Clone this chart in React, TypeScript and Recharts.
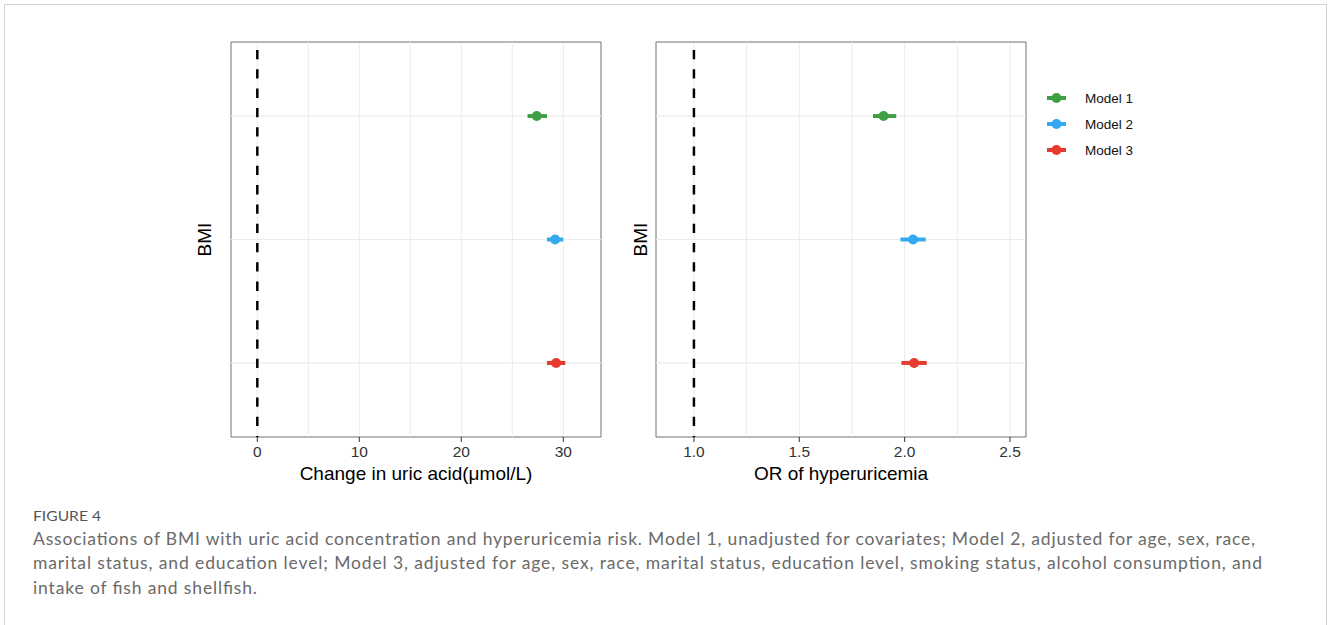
import React from 'react';
import {
  ScatterChart,
  Scatter,
  XAxis,
  YAxis,
  CartesianGrid,
  ErrorBar,
  ReferenceLine,
  ReferenceArea,
  Legend,
  Label,
} from 'recharts';

// ---------- data ----------
const models = ['Model 1', 'Model 2', 'Model 3'];
const modelColors = ['#3f9f45', '#35a9ef', '#e63b2e'];
const rowPositions = [3, 2, 1];

const uricEstimate = [27.4, 29.2, 29.3];
const uricLower = [26.5, 28.4, 28.4];
const uricUpper = [28.4, 30.0, 30.2];

const orEstimate = [1.9, 2.04, 2.045];
const orLower = [1.85, 1.98, 1.985];
const orUpper = [1.96, 2.1, 2.105];

const uricTicks = [0, 10, 20, 30];
const uricMinorTicks = [5, 15, 25];
const uricDomain: [number, number] = [-2.58, 33.7];
const uricRef = 0;

const orTicks = [1.0, 1.5, 2.0, 2.5];
const orMinorTicks = [1.25, 1.75, 2.25];
const orDomain: [number, number] = [0.82, 2.576];
const orRef = 1;

const rowDomain: [number, number] = [0.4, 3.6];
const rowTicks = [1, 2, 3];

const captionTitle = 'FIGURE 4';
const captionLines = [
  'Associations of BMI with uric acid concentration and hyperuricemia risk. Model 1, unadjusted for covariates; Model 2, adjusted for age, sex, race,',
  'marital status, and education level; Model 3, adjusted for age, sex, race, marital status, education level, smoking status, alcohol consumption, and',
  'intake of fish and shellfish.',
];
const captionLineWidths = [1222, 1229, 224];

// ---------- styles ----------
const FONT = '"Liberation Sans", Arial, Helvetica, sans-serif';
const GRID = '#ebebeb';
const BORDER = '#7a7a7a';

function buildSeries(est: number[], lo: number[], hi: number[]) {
  return models.map((m, i) => ({
    name: m,
    color: modelColors[i],
    data: [{ x: est[i], y: rowPositions[i], err: [est[i] - lo[i], hi[i] - est[i]] }],
  }));
}

const LegendContent = (props: any) => {
  const payload =
    props.payload && props.payload.length
      ? props.payload.map((p: any) => ({ value: p.value, color: p.color }))
      : models.map((m, i) => ({ value: m, color: modelColors[i] }));
  return (
    <svg width={130} height={80} style={{ display: 'block' }}>
      {payload.map((entry: any, i: number) => (
        <g key={entry.value} transform={`translate(0, ${13 + i * 26})`}>
          <line x1={7} x2={26} y1={0} y2={0} stroke={entry.color} strokeWidth={4} />
          <circle cx={16.5} cy={0} r={5} fill={entry.color} />
          <text x={45} y={0} dy="0.36em" fontSize={13.5} fill="#111" fontFamily={FONT}>
            {entry.value}
          </text>
        </g>
      ))}
    </svg>
  );
};

type PanelProps = {
  left: number;
  width: number;
  marginRight: number;
  yAxisWidth: number;
  yLabelX: number;
  domain: [number, number];
  ticks: number[];
  minorTicks: number[];
  refValue: number;
  title: string;
  est: number[];
  lo: number[];
  hi: number[];
  withLegend?: boolean;
};

function Panel(p: PanelProps) {
  const series = buildSeries(p.est, p.lo, p.hi);
  return (
    <div style={{ position: 'absolute', left: p.left, top: 30 }}>
      <ScatterChart
        width={p.width}
        height={470}
        margin={{ top: 12, right: p.marginRight, bottom: 0, left: 0 }}
      >
        <CartesianGrid stroke={GRID} strokeWidth={1} fill="#fff" />
        <XAxis
          type="number"
          dataKey="x"
          domain={p.domain}
          allowDataOverflow
          ticks={p.ticks}
          interval={0}
          height={63}
          axisLine={false}
          tickSize={5}
          tickMargin={4}
          tickLine={{ stroke: '#333', strokeWidth: 1 }}
          tick={{ fill: '#333', fontSize: 15.5, fontFamily: FONT }}
          tickFormatter={(v: number) => (p.ticks.some((t) => !Number.isInteger(t)) ? v.toFixed(1) : String(v))}
        >
          <Label
            content={(lp: any) => {
              const vb = lp.viewBox || {};
              return (
                <text
                  x={vb.x + vb.width / 2}
                  y={vb.y + 42.5}
                  textAnchor="middle"
                  fontSize={19}
                  fill="#000"
                  fontFamily={FONT}
                >
                  {p.title}
                </text>
              );
            }}
          />
        </XAxis>
        <YAxis
          type="number"
          dataKey="y"
          domain={rowDomain}
          allowDataOverflow
          ticks={rowTicks}
          width={p.yAxisWidth}
          tick={false}
          tickLine={false}
          axisLine={false}
        >
          <Label
            content={(lp: any) => {
              const vb = lp.viewBox || {};
              const cx = vb.x + p.yLabelX;
              const cy = vb.y + vb.height / 2;
              return (
                <text
                  x={cx}
                  y={cy}
                  textAnchor="middle"
                  fontSize={19}
                  fill="#000"
                  fontFamily={FONT}
                  transform={`rotate(-90, ${cx}, ${cy})`}
                >
                  BMI
                </text>
              );
            }}
          />
        </YAxis>
        {rowTicks.map((v) => (
          <ReferenceLine key={`row-${v}`} y={v} stroke={GRID} strokeWidth={1.2} />
        ))}
        {p.minorTicks.map((v) => (
          <ReferenceLine key={`minor-${v}`} x={v} stroke={GRID} strokeWidth={1} />
        ))}
        <ReferenceLine
          segment={[
            { x: p.refValue, y: rowDomain[1] },
            { x: p.refValue, y: rowDomain[0] },
          ]}
          stroke="#000"
          strokeWidth={2.5}
          strokeDasharray="9.3 10"
          strokeDashoffset={11.3}
        />
        {series.map((s) => (
          <Scatter
            key={s.name}
            name={s.name}
            data={s.data}
            fill={s.color}
            isAnimationActive={false}
            shape={(sp: any) => <circle cx={sp.cx} cy={sp.cy} r={5} fill={s.color} />}
          >
            <ErrorBar
              dataKey="err"
              direction="x"
              width={0}
              stroke={s.color}
              strokeWidth={4}
              isAnimationActive={false}
            />
          </Scatter>
        ))}
        <ReferenceArea
          x1={p.domain[0]}
          x2={p.domain[1]}
          y1={rowDomain[0]}
          y2={rowDomain[1]}
          fill="none"
          fillOpacity={0}
          stroke={BORDER}
          strokeWidth={1}
        />
        {p.withLegend && (
          <Legend
            layout="vertical"
            align="center"
            verticalAlign="middle"
            content={<LegendContent />}
            wrapperStyle={{ left: 420, top: 55, width: 130, height: 80 }}
          />
        )}
      </ScatterChart>
    </div>
  );
}

export default function App() {
  return (
    <div
      style={{
        position: 'absolute',
        left: 0,
        top: 0,
        width: 1328,
        height: 625,
        background: '#fff',
        overflow: 'hidden',
      }}
    >
      <svg
        width={1328}
        height={625}
        style={{ position: 'absolute', left: 0, top: 0, pointerEvents: 'none' }}
      >
        <rect x={4.5} y={4.5} width={1322} height={660} fill="none" stroke="#d2d2d2" strokeWidth={1} />
        <text
          x={33}
          y={521}
          fontSize={14}
          fill="#555"
          fontFamily='Lato, "Open Sans", sans-serif'
          textLength={68}
          lengthAdjust="spacingAndGlyphs"
        >
          {captionTitle}
        </text>
        {captionLines.map((line, i) => (
          <text
            key={i}
            x={33}
            y={545 + i * 24.3}
            fontSize={17.5}
            fill="#6a6a6a"
            fontFamily='Lato, "Open Sans", sans-serif'
            textLength={captionLineWidths[i]}
            lengthAdjust="spacing"
          >
            {line}
          </text>
        ))}
      </svg>
      <Panel
        left={180}
        width={440}
        marginRight={19}
        yAxisWidth={51}
        yLabelX={31}
        domain={uricDomain}
        ticks={uricTicks}
        minorTicks={uricMinorTicks}
        refValue={uricRef}
        title="Change in uric acid(μmol/L)"
        est={uricEstimate}
        lo={uricLower}
        hi={uricUpper}
      />
      <Panel
        left={620}
        width={540}
        marginRight={134}
        yAxisWidth={36}
        yLabelX={27}
        domain={orDomain}
        ticks={orTicks}
        minorTicks={orMinorTicks}
        refValue={orRef}
        title="OR of hyperuricemia"
        est={orEstimate}
        lo={orLower}
        hi={orUpper}
        withLegend
      />
    </div>
  );
}
